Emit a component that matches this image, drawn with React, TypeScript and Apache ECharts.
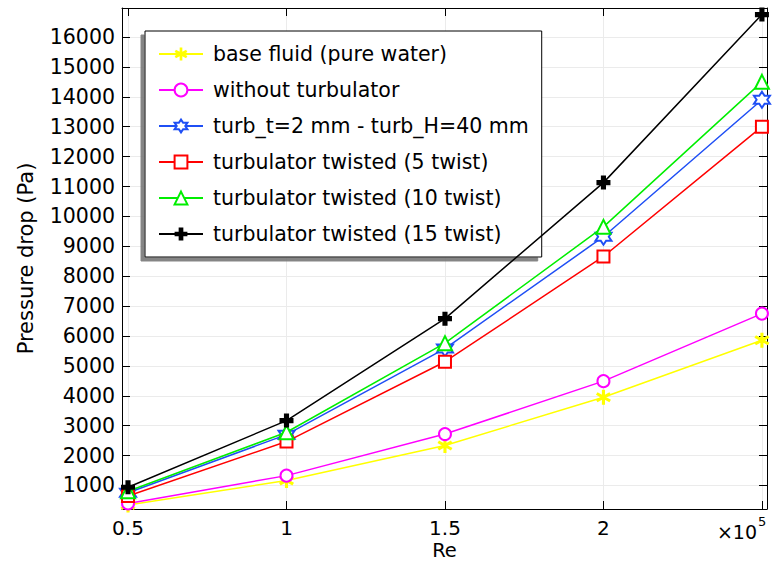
import React, { useEffect, useRef } from "react";
import * as echarts from "echarts";

const reValues = [0.5, 1, 1.5, 2, 2.5];
const baseFluid = [350, 1170, 2340, 3950, 5860];
const withoutTurb = [400, 1330, 2720, 4490, 6750];
const turbT2H40 = [760, 2700, 5580, 9320, 13900];
const twist5 = [650, 2470, 5140, 8660, 13000];
const twist10 = [810, 2780, 5760, 9650, 14500];
const twist15 = [940, 3170, 6580, 11130, 16750];

const seriesNames = [
  "base fluid (pure water)",
  "without turbulator",
  "turb_t=2 mm - turb_H=40 mm",
  "turbulator twisted (5 twist)",
  "turbulator twisted (10 twist)",
  "turbulator twisted (15 twist)",
];
const xTickLabels = ["0.5", "1", "1.5", "2"];

function bar(angleDeg: number, hw: number, hl: number) {
  const a = (angleDeg * Math.PI) / 180;
  const dx = Math.cos(a), dy = Math.sin(a);
  const nx = -dy, ny = dx;
  const p = [
    [hl * dx + hw * nx, hl * dy + hw * ny],
    [hl * dx - hw * nx, hl * dy - hw * ny],
    [-hl * dx - hw * nx, -hl * dy - hw * ny],
    [-hl * dx + hw * nx, -hl * dy + hw * ny],
  ];
  return "M" + p.map((q) => q[0].toFixed(3) + "," + q[1].toFixed(3)).join("L") + "Z";
}
const asteriskPath = "path://" + bar(90, 1.0, 5) + bar(30, 1.0, 5) + bar(150, 1.0, 5);
const plusPath = "path://M-1.1,-3L1.1,-3L1.1,-1.1L3,-1.1L3,1.1L1.1,1.1L1.1,3L-1.1,3L-1.1,1.1L-3,1.1L-3,-1.1L-1.1,-1.1Z";
function hexagram() {
  const pts: string[] = [];
  for (let k = 0; k < 12; k++) {
    const ang = (-90 + k * 30) * (Math.PI / 180);
    const r = k % 2 === 0 ? 1 : 1 / Math.sqrt(3);
    pts.push((r * Math.cos(ang)).toFixed(4) + "," + (r * Math.sin(ang)).toFixed(4));
  }
  return "emptypath://M" + pts.join("L") + "Z";
}
const starPath = hexagram();

const FONT = "DejaVu Sans";

export default function App() {
  const ref = useRef<HTMLDivElement>(null);
  useEffect(() => {
    if (!ref.current) return;
    const chart = echarts.init(ref.current, undefined, { renderer: "svg" });
    const mk = (vals: number[]) => reValues.map((x, i) => [x, vals[i]]);
    const defs = [
      { data: baseFluid, color: "#ffff00", symbol: asteriskPath, size: 15, empty: false },
      { data: withoutTurb, color: "#ff00ff", symbol: "emptyCircle", size: 12, empty: true },
      { data: turbT2H40, color: "#1f4ff5", symbol: starPath, size: 16, empty: true },
      { data: twist5, color: "#ff0000", symbol: "emptyRect", size: 12, empty: true },
      { data: twist10, color: "#00ee00", symbol: "emptyTriangle", size: 14, empty: true },
      { data: twist15, color: "#000000", symbol: plusPath, size: 14, empty: false },
    ];
    const series = defs.map((d, i) => ({
      type: "line",
      name: seriesNames[i],
      data: mk(d.data),
      symbol: d.symbol,
      symbolSize: d.size,
      showAllSymbol: true,
      color: d.color,
      lineStyle: { color: d.color, width: 1.5 },
      itemStyle: { color: d.color, borderWidth: d.empty ? 1.8 : 0 },
      z: 2 + i,
    }));
    const axisCommonX = {
      type: "value",
      min: 0.481,
      max: 2.516,
      minInterval: 0.5,
      maxInterval: 0.5,
      splitNumber: 4,
    };
    const axisCommonY = {
      type: "value",
      min: 214,
      max: 16970,
      minInterval: 1000,
      maxInterval: 1000,
      splitNumber: 16,
    };
    chart.setOption({
      animation: false,
      backgroundColor: "#ffffff",
      textStyle: { fontFamily: FONT },
      grid: {
        left: 122,
        top: 8,
        right: 6,
        bottom: 52,
        containLabel: false,
        outerBoundsMode: "none",
      },
      xAxis: [
        {
          ...axisCommonX,
          position: "bottom",
          name: "Re",
          nameLocation: "middle",
          nameGap: 32,
          nameMoveOverlap: false,
          nameTextStyle: { fontSize: 19.5, color: "#000", fontFamily: FONT, lineHeight: 18 },
          axisLine: { show: true, lineStyle: { color: "#000", width: 1 } },
          axisTick: { show: true, inside: true, length: 8, lineStyle: { color: "#000" } },
          axisLabel: {
            fontSize: 20,
            lineHeight: 20,
            color: "#000",
            margin: 9,
            fontFamily: FONT,
            showMinLabel: false,
            showMaxLabel: false,
            formatter: (v: number) => {
              const s = String(Math.round(v * 1000) / 1000);
              return xTickLabels.indexOf(s) >= 0 ? s : "";
            },
          },
          splitLine: { show: true, lineStyle: { color: "#ebebeb", width: 1 } },
        },
        {
          ...axisCommonX,
          position: "top",
          axisLine: { show: true, lineStyle: { color: "#000", width: 1 } },
          axisTick: { show: true, inside: true, length: 8, lineStyle: { color: "#000" } },
          axisLabel: { show: false },
          splitLine: { show: false },
        },
      ],
      yAxis: [
        {
          ...axisCommonY,
          position: "left",
          name: "Pressure drop (Pa)",
          nameLocation: "middle",
          nameGap: 86,
          nameMoveOverlap: false,
          nameTextStyle: { fontSize: 21, color: "#000", fontFamily: FONT },
          axisLine: { show: true, lineStyle: { color: "#000", width: 1 } },
          axisTick: { show: true, inside: true, length: 8, lineStyle: { color: "#000" } },
          axisLabel: {
            fontSize: 20.5,
            color: "#000",
            margin: 7,
            fontFamily: FONT,
            showMinLabel: false,
            showMaxLabel: false,
            formatter: (v: number) => (Math.abs(v % 1000) < 1e-6 ? String(v) : ""),
          },
          splitLine: { show: true, lineStyle: { color: "#ebebeb", width: 1 } },
        },
        {
          ...axisCommonY,
          position: "right",
          axisLine: { show: true, lineStyle: { color: "#000", width: 1 } },
          axisTick: { show: true, inside: true, length: 8, lineStyle: { color: "#000" } },
          axisLabel: { show: false },
          splitLine: { show: false },
        },
      ],
      legend: {
        show: true,
        orient: "vertical",
        left: 145,
        top: 31,
        padding: [11, 13, 11, 13],
        itemWidth: 44,
        itemHeight: 16,
        itemGap: 12,
        backgroundColor: "#ffffff",
        borderColor: "#000",
        borderWidth: 1,
        borderRadius: 0,
        shadowColor: "rgba(120,120,120,0.9)",
        shadowBlur: 0,
        shadowOffsetX: -4,
        shadowOffsetY: 4,
        textStyle: {
          fontSize: 20.5,
          color: "#000",
          fontFamily: FONT,
          lineHeight: 24,
          padding: [0, 0, 0, 5],
        },
        data: seriesNames,
      },
      graphic: [
        {
          type: "text",
          right: 16,
          top: 522,
          style: { text: "×10", fontSize: 19, fontFamily: FONT, fill: "#000" },
          z: 10,
        },
        {
          type: "text",
          left: 758,
          top: 515,
          style: { text: "5", fontSize: 13, fontFamily: FONT, fill: "#000" },
          z: 10,
        },
      ],
      series,
    });
    return () => chart.dispose();
  }, []);
  return (
    <div
      ref={ref}
      style={{ position: "absolute", left: 0, top: 0, width: 773, height: 561 }}
    />
  );
}
